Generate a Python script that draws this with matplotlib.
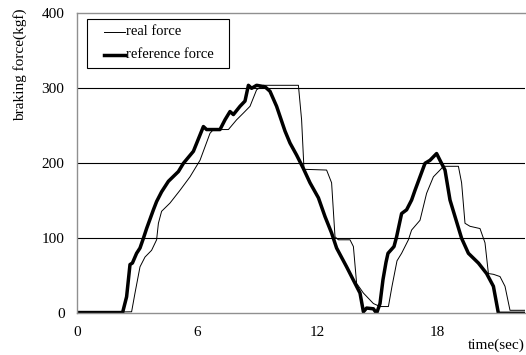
import matplotlib.pyplot as plt
from matplotlib.patches import Rectangle
from matplotlib.lines import Line2D

# thin curve - measured braking force
real_t = [0, 2.73, 2.9, 3.15, 3.4, 3.73, 3.98, 4.07, 4.23, 4.65, 5.15, 5.65, 6.15,
          6.65, 6.82, 7.57, 7.98, 8.32, 8.65, 8.98, 9.32, 11.07, 11.23, 11.35, 12.48,
          12.73, 12.9, 13.07, 13.65, 13.82, 13.98, 14.32, 14.82, 15.15, 15.57, 15.75,
          16.0, 16.23, 16.57, 16.73, 17.15, 17.48, 17.82, 18.15, 18.32, 19.07, 19.23,
          19.4, 19.65, 20.15, 20.4, 20.57, 20.82, 21.15, 21.4, 21.65, 22.4]
real_f = [1, 2, 27, 62, 75, 84, 98, 120, 136, 147, 164, 182, 204,
          240, 245, 245, 258, 267, 276, 298, 304, 304, 258, 192, 191,
          174, 102, 98, 98, 89, 40, 27, 13, 9, 9, 36,
          70, 80, 98, 111, 124, 160, 182, 191, 196, 196, 174,
          120, 116, 113, 94, 53, 52, 49, 36, 4, 4]

# thick curve - reference braking force
ref_t = [0, 2.28, 2.48, 2.65, 2.77, 2.98, 3.15, 3.32, 3.48, 3.82, 3.98, 4.23, 4.57,
         5.07, 5.32, 5.82, 6.32, 6.48, 7.15, 7.4, 7.65, 7.82, 8.15, 8.4, 8.57, 8.73,
         8.98, 9.4, 9.65, 9.98, 10.4, 10.65, 10.98, 11.32, 11.65, 12.07, 12.4, 12.73,
         12.98, 13.48, 13.9, 14.15, 14.32, 14.48, 14.82, 14.98, 15.15, 15.3, 15.45,
         15.55, 15.85, 15.98, 16.23, 16.48, 16.73, 16.9, 17.15, 17.4, 17.65, 17.98,
         18.15, 18.4, 18.65, 18.9, 19.23, 19.57, 20.07, 20.48, 20.82, 21.07, 22.4]
ref_f = [1, 1, 22, 65, 67, 80, 87, 100, 113, 138, 149, 162, 176,
         189, 200, 216, 249, 245, 245, 258, 269, 265, 276, 283, 304, 300,
         304, 302, 296, 276, 243, 227, 211, 193, 174, 154, 129, 107,
         87, 62, 40, 27, 2, 7, 6, 0, 13, 45, 68,
         80, 89, 102, 133, 138, 151, 164, 182, 200, 204, 213,
         204, 191, 151, 129, 100, 80, 67, 53, 36, 0, 0]

yticks = [0, 100, 200, 300, 400]
xticks = [0, 6, 12, 18]
labels = ['real force', 'reference force']

plt.rcParams['font.family'] = 'Liberation Serif'
plt.rcParams['font.size'] = 11

W, H = 526, 355
fig = plt.figure(figsize=(W/100, H/100), dpi=100)
ax = fig.add_axes([77/W, 1 - 313.3/H, 448/W, 300/H])

ax.plot(real_t, real_f, color='black', lw=0.7)
ax.plot(ref_t, ref_f, color='black', lw=2.5)

ax.set_xlim(0, 22.4)
ax.set_ylim(0, 400)
ax.set_xticks(xticks)
ax.set_yticks(yticks)
ax.tick_params(length=0, pad=9, labelsize=11)
for y in [100, 200, 300]:
    ax.axhline(y, color='black', lw=0.8, zorder=0)

ax.spines['right'].set_visible(False)
for s in ['left', 'bottom', 'top']:
    ax.spines[s].set_color('#909090')
    ax.spines[s].set_linewidth(1.0)

# legend box drawn by hand (pixel positions from top-left)
def fx(px):
    return px / W

def fy(py):
    return 1 - py / H

fig.add_artist(Rectangle((fx(87), fy(68)), fx(229) - fx(87), fy(19) - fy(68),
                         transform=fig.transFigure, fill=True, facecolor='white',
                         edgecolor='black', lw=0.8))
for py, lw, lab in [(31.5, 0.7, labels[0]), (55, 2.5, labels[1])]:
    fig.add_artist(Line2D([fx(104), fx(125)], [fy(py), fy(py)], color='black',
                          lw=lw, transform=fig.transFigure))
    fig.text(fx(125.5), fy(py), lab, ha='left', va='center', fontsize=10.5)

fig.text(20/W, 1 - 65/H, 'braking force(kgf)', rotation=90,
         ha='center', va='center', fontsize=11)
fig.text(525/W, 1 - 345/H, 'time(sec)', ha='right', va='center', fontsize=11)

fig.savefig('out.png', dpi=100)
